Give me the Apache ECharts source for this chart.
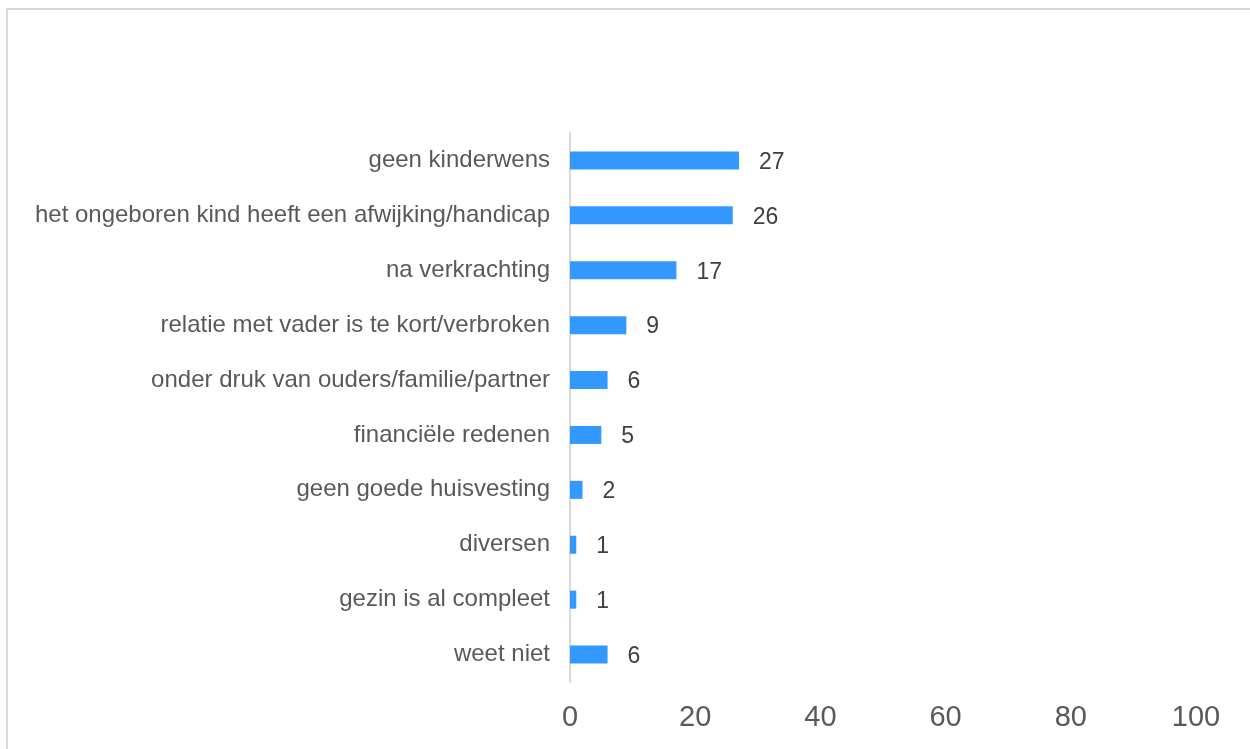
<!DOCTYPE html>
<html>
<head>
<meta charset="utf-8">
<script src="https://cdn.jsdelivr.net/npm/echarts@6/dist/echarts.min.js"></script>
<style>
html,body{margin:0;padding:0;background:#fff;}
#chart{width:1250px;height:749px;}
</style>
</head>
<body>
<div id="chart"></div>
<script>
const categories = [
  "geen kinderwens",
  "het ongeboren kind heeft een afwijking/handicap",
  "na verkrachting",
  "relatie met vader is te kort/verbroken",
  "onder druk van ouders/familie/partner",
  "financiële redenen",
  "geen goede huisvesting",
  "diversen",
  "gezin is al compleet",
  "weet niet"
];
const values = [27, 26, 17, 9, 6, 5, 2, 1, 1, 6];

const chart = echarts.init(document.getElementById('chart'));
chart.setOption({
  animation: false,
  backgroundColor: '#ffffff',
  textStyle: { fontFamily: 'Liberation Sans, Arial, sans-serif' },
  graphic: [{
    type: 'rect',
    shape: { x: 7, y: 9, width: 1300, height: 800 },
    style: { fill: 'none', stroke: '#d9d9d9', lineWidth: 2 },
    silent: true
  }],
  grid: { left: 570, right: 54, top: 133, bottom: 67 },
  xAxis: {
    type: 'value',
    min: 0, max: 100, interval: 20,
    axisLine: { show: false },
    axisTick: { show: false },
    splitLine: { show: false },
    axisLabel: { color: '#595959', fontSize: 29, margin: 21 }
  },
  yAxis: {
    type: 'category',
    data: categories,
    inverse: true,
    axisLine: { show: true, lineStyle: { color: '#d9d9d9', width: 2 } },
    axisTick: { show: false },
    axisLabel: { color: '#595959', fontSize: 24, margin: 20 }
  },
  series: [{
    type: 'bar',
    data: values,
    barWidth: 18,
    itemStyle: { color: '#3399ff' },
    label: {
      show: true,
      position: 'right',
      distance: 20,
      offset: [0, 2],
      color: '#404040',
      fontSize: 23
    }
  }]
});
</script>
</body>
</html>
